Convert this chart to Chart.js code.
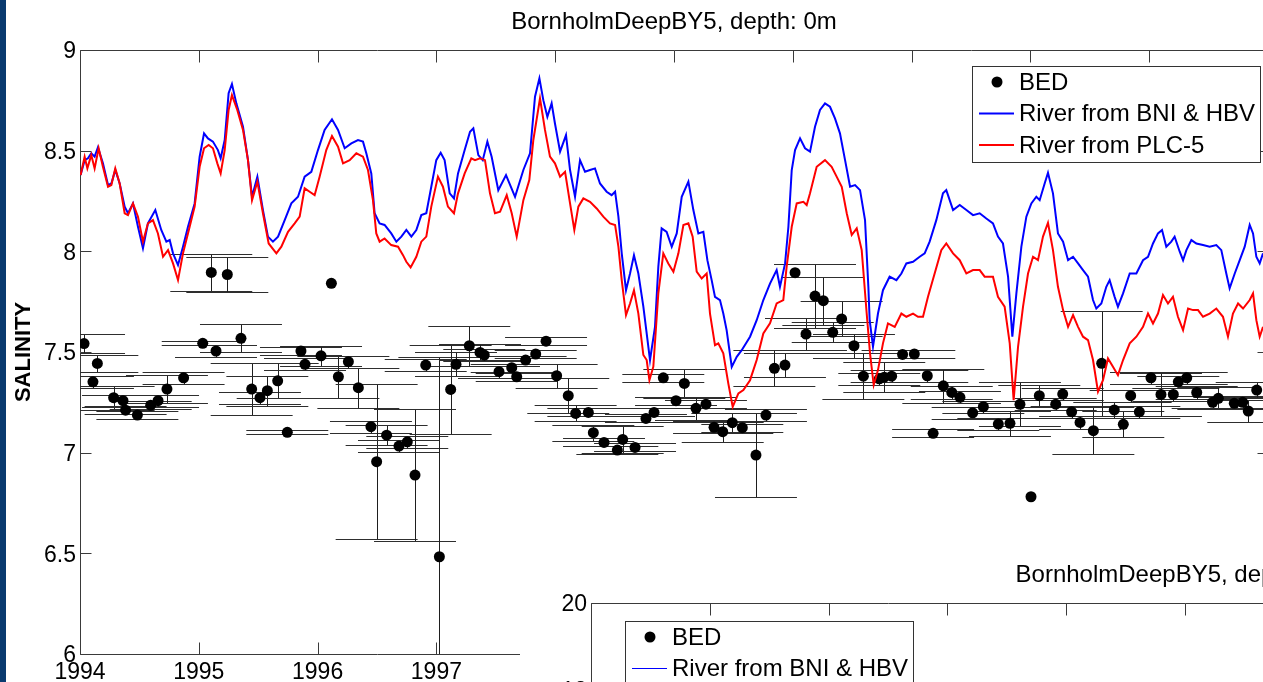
<!DOCTYPE html>
<html>
<head>
<meta charset="utf-8">
<script src="https://cdn.jsdelivr.net/npm/chart.js"></script>
<style>
    html, body { margin: 0; padding: 0; background: #fff; overflow: hidden; }
    #page { position: relative; width: 1263px; height: 682px; overflow: hidden; background: #fff; }
    #mainBox { position: absolute; left: 0; top: 0; width: 1280px; height: 682px; }
    #insetBox { position: absolute; left: 520px; top: 545px; width: 1271px; height: 690px; background: #fff; }
    #stripe { position: absolute; left: 0; top: 0; width: 6px; height: 682px; background: #093a6f; }
</style>
</head>
<body>
<div id="page">
    <div id="mainBox"><canvas id="salinityChart"></canvas></div>
    <div id="insetBox"><canvas id="insetChart"></canvas></div>
    <div id="stripe"></div>
</div>
<script>
const yearTicks = [1994, 1995, 1996, 1997, 1998, 1999, 2000, 2001, 2002, 2003]
const salinityTicks = [6, 6.5, 7, 7.5, 8, 8.5, 9]
const insetSalinityTicks = [6, 8, 10, 12, 14, 16, 18, 20]

const bedYears = [
    1994.034, 1994.109, 1994.146, 1994.283, 1994.362, 1994.384, 1994.483, 1994.595, 1994.657, 1994.732,
    1994.872, 1995.033, 1995.105, 1995.145, 1995.240, 1995.355, 1995.445, 1995.515, 1995.577, 1995.664,
    1995.745, 1995.860, 1995.894, 1996.029, 1996.116, 1996.175, 1996.259, 1996.343, 1996.449, 1996.497,
    1996.581, 1996.685, 1996.755, 1996.820, 1996.910, 1997.025, 1997.120, 1997.165, 1997.277, 1997.367,
    1997.403, 1997.527, 1997.634, 1997.676, 1997.751, 1997.836, 1997.923, 1998.012, 1998.110, 1998.172,
    1998.279, 1998.321, 1998.411, 1998.523, 1998.568, 1998.672, 1998.764, 1998.832, 1998.910, 1999.017,
    1999.087, 1999.185, 1999.269, 1999.337, 1999.410, 1999.491, 1999.575, 1999.690, 1999.774, 1999.845,
    1999.934, 2000.019, 2000.111, 2000.187, 2000.257, 2000.336, 2000.411, 2000.515, 2000.594, 2000.728,
    2000.770, 2000.832, 2000.924, 2001.023, 2001.132, 2001.181, 2001.267, 2001.338, 2001.407, 2001.514,
    2001.604, 2001.730, 2001.828, 2001.912, 2002.005, 2002.075, 2002.213, 2002.272, 2002.347, 2002.418,
    2002.530, 2002.600, 2002.706, 2002.782, 2002.844, 2002.917, 2003.015, 2003.099, 2003.203, 2003.245,
    2003.316, 2003.400, 2003.534, 2003.582, 2003.716, 2003.787, 2003.834, 2003.905
]
const bedSalinity = [
    7.542, 7.352, 7.443, 7.273, 7.258, 7.211, 7.187, 7.236, 7.258, 7.316,
    7.372, 7.543, 7.895, 7.505, 7.885, 7.568, 7.316, 7.273, 7.308, 7.357,
    7.101, 7.505, 7.439, 7.481, 7.841, 7.377, 7.452, 7.323, 7.129, 6.955,
    7.087, 7.033, 7.054, 6.889, 7.435, 6.483, 7.314, 7.439, 7.531, 7.498,
    7.485, 7.402, 7.422, 7.377, 7.460, 7.490, 7.554, 7.382, 7.283, 7.195,
    7.200, 7.099, 7.051, 7.013, 7.066, 7.026, 7.170, 7.200, 7.372, 7.258,
    7.344, 7.220, 7.241, 7.126, 7.104, 7.149, 7.124, 6.988, 7.187, 7.419,
    7.435, 7.894, 7.589, 7.778, 7.755, 7.598, 7.664, 7.531, 7.380, 7.367,
    7.375, 7.380, 7.488, 7.490, 7.382, 7.096, 7.332, 7.299, 7.275, 7.198,
    7.228, 7.142, 7.146, 7.240, 6.781, 7.283, 7.241, 7.291, 7.203, 7.150,
    7.109, 7.444, 7.212, 7.141, 7.283, 7.203, 7.372, 7.289, 7.289, 7.352,
    7.372, 7.299, 7.250, 7.270, 7.245, 7.250, 7.207, 7.311
]
const bedError = [
    0.045, 0.03, 0.04, 0.06, 0.03, 0.02, 0.02, 0.02, 0.03, 0.07,
    0.03, 0.01, 0.093, 0.03, 0.086, 0.07, 0.13, 0.03, 0.075, 0.087,
    0.01, 0.02, 0.03, 0.05, 0, 0.105, 0.03, 0.10, 0.03, 0.385,
    0.05, 0.03, 0.03, 0.33, 0.03, 0.99, 0.22, 0.06, 0.10, 0.04,
    0.03, 0.03, 0.02, 0.02, 0.02, 0.02, 0.02, 0.06, 0.087, 0.04,
    0.02, 0.04, 0.02, 0.02, 0.066, 0.02, 0.02, 0.02, 0.02, 0.02,
    0.07, 0.058, 0.02, 0.03, 0.05, 0.05, 0.02, 0.21, 0.03, 0.09,
    0.06, 0, 0.08, 0.16, 0.12, 0.05, 0.087, 0.06, 0.115, 0.03,
    0.075, 0.03, 0.02, 0.02, 0.03, 0.02, 0.083, 0.03, 0.03, 0.03,
    0.03, 0.03, 0.062, 0.11, 0, 0.054, 0.03, 0.03, 0.03, 0.03,
    0.118, 0.262, 0.04, 0.064, 0.03, 0.03, 0.03, 0.108, 0.03, 0.03,
    0.03, 0.03, 0.03, 0.054, 0.03, 0.03, 0.056, 0.04
]

const bniYears = [
    1994.005, 1994.039, 1994.067, 1994.095, 1994.123, 1994.151, 1994.193, 1994.236, 1994.264, 1994.297,
    1994.334, 1994.376, 1994.404, 1994.446, 1994.488, 1994.530, 1994.572, 1994.634, 1994.684, 1994.727,
    1994.755, 1994.783, 1994.825, 1994.867, 1994.909, 1994.965, 1995.007, 1995.044, 1995.077, 1995.119,
    1995.161, 1995.184, 1995.218, 1995.251, 1995.279, 1995.316, 1995.372, 1995.414, 1995.448, 1995.493,
    1995.540, 1995.582, 1995.624, 1995.667, 1995.723, 1995.779, 1995.835, 1995.891, 1995.947, 1996.003,
    1996.059, 1996.121, 1996.172, 1996.228, 1996.284, 1996.340, 1996.382, 1996.410, 1996.452, 1996.480,
    1996.522, 1996.564, 1996.620, 1996.663, 1996.705, 1996.747, 1996.789, 1996.831, 1996.873, 1996.915,
    1996.957, 1996.999, 1997.036, 1997.069, 1997.112, 1997.148, 1997.182, 1997.238,
    1997.283, 1997.311, 1997.353, 1997.390, 1997.429, 1997.465, 1997.521, 1997.586, 1997.662, 1997.732,
    1997.788, 1997.830, 1997.867, 1997.900, 1997.934, 1997.970, 1997.998, 1998.041, 1998.091, 1998.125,
    1998.167, 1998.209, 1998.251, 1998.293, 1998.335, 1998.377, 1998.433, 1998.475, 1998.504, 1998.532,
    1998.560, 1998.596, 1998.630, 1998.663, 1998.700, 1998.742, 1998.770, 1998.798, 1998.840, 1998.868,
    1998.896, 1998.938, 1998.981, 1999.023, 1999.065, 1999.121, 1999.163, 1999.205, 1999.247, 1999.281,
    1999.317, 1999.345, 1999.387, 1999.415, 1999.443, 1999.486, 1999.528, 1999.570, 1999.640, 1999.696,
    1999.752, 1999.808, 1999.864, 1999.892, 1999.935, 1999.963, 1999.991, 2000.019, 2000.061, 2000.103,
    2000.145, 2000.187, 2000.229, 2000.271, 2000.313, 2000.355, 2000.397, 2000.440, 2000.482, 2000.524,
    2000.566, 2000.608, 2000.636, 2000.647, 2000.675,
    2000.717, 2000.759, 2000.815, 2000.872, 2000.914, 2000.956, 2001.012, 2001.068, 2001.110, 2001.152,
    2001.208, 2001.264, 2001.292, 2001.349, 2001.405, 2001.461, 2001.517, 2001.573, 2001.629, 2001.685,
    2001.727, 2001.769, 2001.812, 2001.848, 2001.882, 2001.924, 2001.966, 2002.008, 2002.050, 2002.078,
    2002.120, 2002.148, 2002.190, 2002.232, 2002.275, 2002.317, 2002.359, 2002.401, 2002.443, 2002.485,
    2002.527, 2002.555, 2002.597, 2002.639, 2002.667, 2002.709, 2002.737, 2002.780, 2002.836, 2002.892,
    2002.948, 2002.990, 2003.032, 2003.074, 2003.108, 2003.144, 2003.186, 2003.214, 2003.257, 2003.285,
    2003.313, 2003.355, 2003.397, 2003.453, 2003.509, 2003.565, 2003.607, 2003.649, 2003.677, 2003.720,
    2003.762, 2003.804, 2003.846, 2003.874, 2003.902, 2003.930, 2003.958
]
const bniSalinity = [
    8.379, 8.453, 8.462, 8.487, 8.470, 8.516, 8.437, 8.329, 8.337, 8.404,
    8.337, 8.222, 8.189, 8.238, 8.122, 8.015, 8.139, 8.205, 8.106, 8.048,
    8.056, 7.990, 7.932, 8.023, 8.122, 8.238, 8.470, 8.586, 8.561, 8.545,
    8.503, 8.462, 8.553, 8.785, 8.831, 8.735, 8.619, 8.453, 8.271, 8.371,
    8.205, 8.073, 8.048, 8.073, 8.155, 8.238, 8.271, 8.371, 8.395, 8.503,
    8.603, 8.656, 8.603, 8.512, 8.536, 8.553, 8.545, 8.487, 8.387, 8.189,
    8.139, 8.131, 8.089, 8.048, 8.073, 8.106, 8.073, 8.106, 8.180, 8.189,
    8.321, 8.453, 8.490, 8.453, 8.288, 8.263, 8.387, 8.503,
    8.594, 8.611, 8.478, 8.453, 8.545, 8.470, 8.304, 8.379, 8.271, 8.404,
    8.487, 8.768, 8.859, 8.751, 8.668, 8.735, 8.635, 8.495, 8.577, 8.404,
    8.271, 8.453, 8.395, 8.404, 8.412, 8.337, 8.296, 8.279, 8.296, 8.172,
    7.990, 7.807, 7.890, 7.981, 7.890, 7.725, 7.592, 7.460, 7.625, 7.923,
    8.114, 8.097, 8.023, 8.089, 8.271, 8.346, 8.205, 8.089, 8.097, 7.956,
    7.857, 7.774, 7.758, 7.691, 7.609, 7.426, 7.476, 7.509, 7.576, 7.658,
    7.758, 7.840, 7.907, 7.824, 7.940, 8.122, 8.404, 8.503, 8.561, 8.512,
    8.495, 8.619, 8.702, 8.735, 8.718, 8.660, 8.586, 8.453, 8.321, 8.329,
    8.304, 8.155, 7.824, 7.658, 7.526,
    7.691, 7.807, 7.874, 7.857, 7.890, 7.940, 7.948, 7.973, 7.990, 8.048,
    8.155, 8.288, 8.304, 8.205, 8.230, 8.205, 8.180, 8.189, 8.163, 8.139,
    8.073, 8.039, 7.874, 7.576, 7.791, 8.023, 8.172, 8.238, 8.271, 8.254,
    8.337, 8.390, 8.288, 8.089, 8.048, 7.956, 7.973, 7.940, 7.907, 7.874,
    7.758, 7.716, 7.741, 7.824, 7.857, 7.774, 7.725, 7.791, 7.890, 7.890,
    7.956, 7.973, 8.039, 8.089, 8.106, 8.023, 8.048, 8.073, 7.998, 7.956,
    8.006, 8.056, 8.039, 8.031, 8.023, 8.031, 8.006, 7.890, 7.816, 7.890,
    7.956, 8.023, 8.131, 8.089, 7.973, 7.940, 7.990
]

const plcYears = [
    1994.005, 1994.039, 1994.062, 1994.095, 1994.123, 1994.157, 1994.193, 1994.236, 1994.264, 1994.297,
    1994.334, 1994.376, 1994.404, 1994.446, 1994.488, 1994.530, 1994.572, 1994.614, 1994.656, 1994.699,
    1994.741, 1994.783, 1994.825, 1994.867, 1994.923, 1994.965, 1995.007, 1995.044, 1995.083, 1995.119,
    1995.156, 1995.184, 1995.218, 1995.251, 1995.279, 1995.324, 1995.372, 1995.414, 1995.448, 1995.493,
    1995.540, 1995.588, 1995.653, 1995.695, 1995.751, 1995.807, 1995.849, 1995.891, 1995.933, 1995.975,
    1996.017, 1996.073, 1996.121, 1996.172, 1996.214, 1996.270, 1996.326, 1996.382, 1996.424, 1996.466,
    1996.494, 1996.522, 1996.564, 1996.620, 1996.677, 1996.719, 1996.747, 1996.783, 1996.831, 1996.873,
    1996.915, 1996.957, 1997.013, 1997.055, 1997.097, 1997.148, 1997.182, 1997.238, 1997.294,
    1997.325, 1997.367, 1997.409, 1997.451, 1997.493, 1997.536, 1997.592, 1997.634, 1997.676, 1997.732,
    1997.782, 1997.816, 1997.872, 1997.914, 1997.956, 1997.998, 1998.041, 1998.083, 1998.125, 1998.161,
    1998.195, 1998.237, 1998.293, 1998.349, 1998.405, 1998.461, 1998.504, 1998.532, 1998.560, 1998.596,
    1998.630, 1998.663, 1998.700, 1998.742, 1998.770, 1998.793, 1998.826, 1998.868, 1998.910, 1998.952,
    1998.995, 1999.037, 1999.079, 1999.121, 1999.157, 1999.191, 1999.233, 1999.275, 1999.303, 1999.345,
    1999.373, 1999.415, 1999.457, 1999.494, 1999.542, 1999.584, 1999.640, 1999.696, 1999.752, 1999.808,
    1999.864, 1999.920, 1999.948, 1999.991, 2000.033, 2000.089, 2000.117, 2000.145, 2000.201, 2000.271,
    2000.327, 2000.369, 2000.412, 2000.454, 2000.496, 2000.538, 2000.580, 2000.622, 2000.650,
    2000.681, 2000.717, 2000.759, 2000.801, 2000.858, 2000.914, 2000.956, 2001.012, 2001.054, 2001.096,
    2001.138, 2001.194, 2001.250, 2001.292, 2001.349, 2001.405, 2001.461, 2001.517, 2001.573, 2001.615,
    2001.685, 2001.727, 2001.783, 2001.826, 2001.859, 2001.896, 2001.938, 2001.980, 2002.022, 2002.064,
    2002.106, 2002.148, 2002.190, 2002.232, 2002.275, 2002.317, 2002.359, 2002.401, 2002.443, 2002.485,
    2002.527, 2002.569, 2002.611, 2002.653, 2002.695, 2002.737, 2002.780, 2002.836, 2002.892, 2002.948,
    2002.990, 2003.032, 2003.074, 2003.116, 2003.158, 2003.200, 2003.242, 2003.285, 2003.327, 2003.369,
    2003.411, 2003.453, 2003.509, 2003.565, 2003.621, 2003.663, 2003.705, 2003.748, 2003.790, 2003.846,
    2003.874, 2003.902, 2003.930, 2003.958
]
const plcSalinity = [
    8.379, 8.470, 8.412, 8.478, 8.412, 8.512, 8.420, 8.321, 8.329, 8.412,
    8.337, 8.189, 8.180, 8.238, 8.172, 8.048, 8.139, 8.155, 8.089, 7.973,
    8.006, 7.940, 7.857, 7.990, 8.122, 8.222, 8.420, 8.512, 8.528, 8.512,
    8.437, 8.387, 8.503, 8.702, 8.776, 8.702, 8.603, 8.453, 8.254, 8.346,
    8.189, 8.039, 7.990, 8.023, 8.097, 8.139, 8.172, 8.313, 8.296, 8.279,
    8.371, 8.503, 8.573, 8.520, 8.437, 8.453, 8.487, 8.470, 8.404, 8.254,
    8.089, 8.048, 8.064, 8.031, 8.023, 7.981, 7.948, 7.920, 7.973, 8.048,
    8.073, 8.222, 8.371, 8.321, 8.222, 8.189, 8.288, 8.387, 8.462,
    8.453, 8.462, 8.453, 8.288, 8.189, 8.197, 8.279, 8.189, 8.073, 8.254,
    8.354, 8.553, 8.760, 8.603, 8.470, 8.437, 8.371, 8.395, 8.238, 8.106,
    8.222, 8.263, 8.246, 8.213, 8.172, 8.139, 8.131, 8.023, 7.857, 7.683,
    7.741, 7.807, 7.691, 7.485, 7.460, 7.360, 7.427, 7.791, 7.990, 7.940,
    7.899, 7.990, 8.131, 8.139, 8.073, 7.899, 7.865, 7.890, 7.691, 7.534,
    7.543, 7.493, 7.344, 7.228, 7.294, 7.311, 7.360, 7.460, 7.592, 7.642,
    7.741, 7.758, 7.923, 8.122, 8.238, 8.246, 8.230, 8.288, 8.420, 8.453,
    8.420, 8.371, 8.321, 8.189, 8.081, 8.114, 8.006, 7.691, 7.493,
    7.336, 7.410, 7.543, 7.642, 7.625, 7.691, 7.675, 7.691, 7.675, 7.675,
    7.774, 7.890, 8.006, 8.039, 7.990, 7.956, 7.890, 7.907, 7.907, 7.874,
    7.874, 7.774, 7.725, 7.543, 7.261, 7.526, 7.725, 7.890, 7.973, 7.956,
    8.073, 8.142, 8.006, 7.824, 7.708, 7.625, 7.683, 7.625, 7.576, 7.559,
    7.460, 7.303, 7.360, 7.468, 7.427, 7.385, 7.460, 7.543, 7.576, 7.625,
    7.691, 7.642, 7.691, 7.783, 7.741, 7.774, 7.675, 7.609, 7.716, 7.708,
    7.708, 7.675, 7.691, 7.716, 7.675, 7.576, 7.691, 7.741, 7.716, 7.758,
    7.791, 7.658, 7.576, 7.625
]

const fontFamily = '"Liberation Sans", Arial, Helvetica, sans-serif'
const capHalfWidth = 0.345

Chart.defaults.font.family = fontFamily
Chart.defaults.font.size = 23
Chart.defaults.color = '#000'

function toPoints(xs, ys) {
    return xs.map((x, i) => ({ x: x, y: ys[i] }))
}

const axisFrame = {
    id: 'axisFrame',
    beforeDatasetsDraw(chart) {
        const { ctx, chartArea: a, scales } = chart
        const left = Math.round(a.left) + 0.5, right = Math.round(a.right) + 0.5
        const top = Math.round(a.top) + 0.5, bottom = Math.round(a.bottom) + 0.5
        ctx.save()
        ctx.strokeStyle = '#3a3a3a'
        ctx.lineWidth = 1
        ctx.beginPath()
        ctx.rect(left, top, right - left, bottom - top)
        scales.x.ticks.forEach(t => {
            const px = Math.round(scales.x.getPixelForValue(t.value)) + 0.5
            ctx.moveTo(px, bottom)
            ctx.lineTo(px, bottom - 12)
            ctx.moveTo(px, top)
            ctx.lineTo(px, top + 12)
        })
        scales.y.ticks.forEach(t => {
            const py = Math.round(scales.y.getPixelForValue(t.value)) + 0.5
            ctx.moveTo(left, py)
            ctx.lineTo(left + 11, py)
            ctx.moveTo(right, py)
            ctx.lineTo(right - 11, py)
        })
        ctx.stroke()
        ctx.restore()
    }
}

const errorBars = {
    id: 'errorBars',
    beforeDatasetsDraw(chart) {
        const { ctx, chartArea: a, scales: { x, y } } = chart
        ctx.save()
        ctx.beginPath()
        ctx.rect(a.left, a.top, a.right - a.left, a.bottom - a.top)
        ctx.clip()
        ctx.lineWidth = 1
        chart.data.datasets.forEach(dataset => {
            if (!dataset.errors) return
            dataset.data.forEach((p, i) => {
                const err = dataset.errors[i]
                if (!err) return
                const px = Math.round(x.getPixelForValue(p.x)) + 0.5
                const top = Math.round(y.getPixelForValue(p.y + err)) + 0.5
                const bottom = Math.round(y.getPixelForValue(p.y - err)) + 0.5
                const left = x.getPixelForValue(p.x - capHalfWidth)
                const right = x.getPixelForValue(p.x + capHalfWidth)
                ctx.strokeStyle = '#1e1e1e'
                ctx.beginPath()
                ctx.moveTo(px, top)
                ctx.lineTo(px, bottom)
                ctx.stroke()
                ctx.strokeStyle = '#2e2e2e'
                ctx.beginPath()
                ctx.moveTo(left, top)
                ctx.lineTo(right, top)
                ctx.moveTo(left, bottom)
                ctx.lineTo(right, bottom)
                ctx.stroke()
            })
        })
        ctx.restore()
    }
}

const boxLegend = {
    id: 'boxLegend',
    afterDraw(chart, args, opts) {
        const { ctx, chartArea: a } = chart
        const w = 288, h = 96
        const bx = Math.round(opts.side === 'right' ? a.right - opts.dx - w : a.left + opts.dx)
        const by = Math.round(a.top + opts.dy)
        ctx.save()
        ctx.fillStyle = '#fff'
        ctx.fillRect(bx, by, w, h)
        ctx.strokeStyle = '#333'
        ctx.lineWidth = 1
        ctx.strokeRect(bx + 0.5, by + 0.5, w, h)
        ctx.font = '24px ' + fontFamily
        ctx.textBaseline = 'middle'
        chart.data.datasets.forEach((ds, i) => {
            const cy = by + 16 + i * 31.5
            if (ds.showLine) {
                ctx.strokeStyle = ds.borderColor
                ctx.lineWidth = opts.lineWidth
                ctx.beginPath()
                ctx.moveTo(bx + 7, cy)
                ctx.lineTo(bx + 42, cy)
                ctx.stroke()
            } else {
                ctx.fillStyle = '#000'
                ctx.beginPath()
                ctx.arc(bx + 25, cy, 5.5, 0, Math.PI * 2)
                ctx.fill()
            }
            ctx.fillStyle = '#000'
            ctx.fillText(ds.label, bx + 47, cy + 1)
        })
        ctx.restore()
    }
}

function buildOptions(settings) {
    return {
        responsive: true,
        maintainAspectRatio: false,
        animation: false,
        events: [],
        layout: { padding: { left: 0, right: 12, top: 0, bottom: 0 } },
        plugins: {
            legend: { display: false },
            tooltip: { enabled: false },
            title: {
                display: true,
                text: settings.title,
                fullSize: false,
                color: '#000',
                font: { size: 24, weight: 'normal' },
                padding: { top: settings.titleTop, bottom: 13.2 }
            },
            boxLegend: settings.legend
        },
        scales: {
            x: {
                type: 'linear',
                min: 1994,
                max: 2004,
                afterBuildTicks: s => { s.ticks = yearTicks.map(v => ({ value: v })) },
                afterFit: s => { s.height = 28 },
                grid: { display: false, drawTicks: false },
                border: { display: false },
                ticks: { padding: 5, autoSkip: false, maxRotation: 0, callback: v => String(v) }
            },
            y: {
                min: settings.yMin,
                max: settings.yMax,
                afterBuildTicks: s => { s.ticks = settings.yTicks.map(v => ({ value: v })) },
                afterFit: s => { s.width = settings.yWidth },
                grid: { display: false, drawTicks: false },
                border: { display: false },
                ticks: { padding: 4, labelOffset: 2, callback: v => String(v) },
                title: {
                    display: true,
                    text: 'SALINITY',
                    color: '#000',
                    font: { size: 22, weight: 'bold' },
                    padding: { top: 11, bottom: 0 }
                }
            }
        }
    }
}

const mainChart = new Chart(document.getElementById('salinityChart'), {
    type: 'scatter',
    data: {
        datasets: [{
            label: 'BED',
            data: toPoints(bedYears, bedSalinity),
            errors: bedError,
            showLine: false,
            pointRadius: 5.5,
            pointBackgroundColor: '#000',
            pointBorderWidth: 0,
            order: 3
        }, {
            label: 'River from BNI & HBV',
            data: toPoints(bniYears, bniSalinity),
            showLine: true,
            borderColor: '#0000ff',
            borderWidth: 2,
            pointRadius: 0,
            order: 2
        }, {
            label: 'River from PLC-5',
            data: toPoints(plcYears, plcSalinity),
            showLine: true,
            borderColor: '#ff0000',
            borderWidth: 2,
            pointRadius: 0,
            order: 1
        }]
    },
    options: buildOptions({
        title: 'BornholmDeepBY5, depth: 0m',
        titleTop: 8,
        yMin: 6,
        yMax: 9,
        yTicks: salinityTicks,
        yWidth: 80,
        legend: { side: 'right', dx: 8, dy: 16, lineWidth: 2 }
    }),
    plugins: [axisFrame, errorBars, boxLegend]
})

const insetChart = new Chart(document.getElementById('insetChart'), {
    type: 'scatter',
    data: {
        datasets: [
            { label: 'BED', data: [], showLine: false, pointRadius: 5, pointBackgroundColor: '#000' },
            { label: 'River from BNI & HBV', data: [], showLine: true, borderColor: '#0000ff', borderWidth: 1, pointRadius: 0 },
            { label: 'River from PLC-5', data: [], showLine: true, borderColor: '#ff0000', borderWidth: 1, pointRadius: 0 }
        ]
    },
    options: buildOptions({
        title: 'BornholmDeepBY5, depth: 60m',
        titleTop: 16,
        yMin: 6,
        yMax: 20,
        yTicks: insetSalinityTicks,
        yWidth: 71,
        legend: { side: 'left', dx: 34, dy: 18, lineWidth: 1 }
    }),
    plugins: [axisFrame, boxLegend]
})
</script>
</body>
</html>
